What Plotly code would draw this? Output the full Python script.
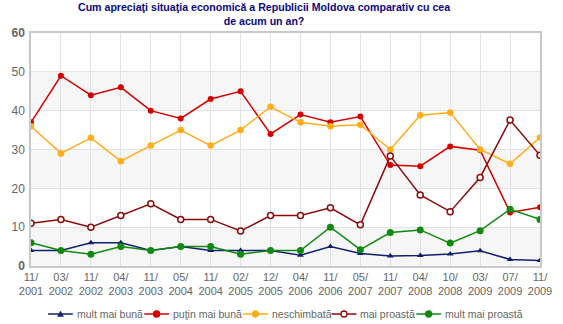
import plotly.graph_objects as go

# Survey waves (month/year)
periods = ["11/2001", "03/2002", "11/2002", "04/2003", "11/2003", "05/2004",
           "11/2004", "02/2005", "12/2005", "04/2006", "11/2006", "05/2007",
           "11/2007", "04/2008", "10/2008", "03/2009", "07/2009", "11/2009"]

# Share of respondents (%) per answer
mult_mai_buna = [4, 4, 6, 6, 4, 5, 4, 4, 4, 2.8, 5, 3.2, 2.6, 2.7, 3.1, 3.9, 1.7, 1.4]
putin_mai_buna = [37, 49, 44, 46, 40, 38, 43, 45, 34, 39, 37, 38.5, 26, 25.7, 30.8, 29.8, 13.8, 15.1]
neschimbata = [36, 29, 33, 27, 31, 35, 31, 35, 41, 37, 36, 36.4, 30, 38.8, 39.5, 30, 26.3, 33.1]
mai_proasta = [11, 12, 10, 13, 16, 12, 12, 9, 13, 13, 15, 10.6, 28.3, 18.3, 14, 22.8, 37.6, 28.5]
mult_mai_proasta = [6, 4, 3, 5, 4, 5, 5, 3, 4, 4, 10, 4.2, 8.6, 9.3, 5.9, 9.1, 14.6, 12]

y_ticks = [0, 10, 20, 30, 40, 50, 60]

FONT = "Liberation Sans"
W, H = 563, 324
M_L, M_R, M_T, M_B = 17, 11, 33, 58
PW, PH = W - M_L - M_R, H - M_T - M_B

x_idx = list(range(len(periods)))
tick_text = [p.replace("/", "/<br>") for p in periods]

series = [
    ("mult mai bună", mult_mai_buna, "#12206e", "triangle-up", "#12206e"),
    ("puţin mai bună", putin_mai_buna, "#d40000", "circle", "#d40000"),
    ("neschimbată", neschimbata, "#ffad1a", "circle", "#ffad1a"),
    ("mai proastă", mai_proasta, "#8b0a0a", "circle", "white"),
    ("mult mai proastă", mult_mai_proasta, "#0f8a0f", "circle", "#0f8a0f"),
]
marker_sizes = [6, 6, 6.5, 6, 7]

fig = go.Figure()
for (name, vals, col, sym, fill), ms in zip(series, marker_sizes):
    fig.add_trace(go.Scatter(
        x=x_idx, y=vals, name=name, mode="lines+markers",
        line=dict(color=col, width=1.5),
        marker=dict(symbol=sym, size=ms, color=fill, line=dict(color=col, width=1.5 if fill == "white" else 0)),
    ))

# Alternating light bands behind the plot
for lo in (0, 20, 40):
    fig.add_shape(type="rect", xref="paper", yref="y", x0=0, x1=1, y0=lo, y1=lo + 10,
                  fillcolor="#f6f6f6", line_width=0, layer="below")


def px_x(x):
    return (x - M_L) / PW


def px_y(y):
    return (H - M_B - y) / PH


# Legend row below the axis: key line, key marker, label
legend_x = [35, 136, 240, 333, 422]
legend_y = px_y(314)
for (name, vals, col, sym, fill), lx in zip(series, legend_x):
    fig.add_shape(type="line", xref="paper", yref="paper",
                  x0=px_x(lx), x1=px_x(lx + 26), y0=legend_y, y1=legend_y,
                  line=dict(color=col, width=1.5))
    cx = px_x(lx + 13)
    if sym == "triangle-up":
        fig.add_shape(type="path", xref="paper", yref="paper",
                      xsizemode="pixel", ysizemode="pixel", xanchor=cx, yanchor=legend_y,
                      path="M -3 -2.5 L 3 -2.5 L 0 3 Z", fillcolor=col, line=dict(color=col, width=0.5))
    else:
        r = 3
        fig.add_shape(type="circle", xref="paper", yref="paper",
                      xsizemode="pixel", ysizemode="pixel", xanchor=cx, yanchor=legend_y,
                      x0=-r, x1=r, y0=-r, y1=r, fillcolor=fill,
                      line=dict(color=col, width=1.3))
    fig.add_annotation(text=name, xref="paper", yref="paper", x=px_x(lx + 28), y=legend_y,
                       xanchor="left", yanchor="middle", showarrow=False,
                       font=dict(family=FONT, size=10.5, color="#666666"))

# Two-line heading above the plot area
fig.add_annotation(
    text="<b>Cum apreciaţi situaţia economică a Republicii Moldova comparativ cu cea<br>de acum un an?</b>",
    xref="paper", yref="paper", x=0.458, y=1.0815, xanchor="center", yanchor="middle",
    align="center", showarrow=False,
    font=dict(family=FONT, size=10.6, color="#0a0a80"),
)

fig.update_layout(
    width=W, height=H,
    margin=dict(l=M_L, r=M_R, t=M_T, b=M_B),
    paper_bgcolor="white", plot_bgcolor="white",
    font=dict(family=FONT, size=11, color="#666666"),
    showlegend=False,
)

fig.update_xaxes(
    range=[0, len(periods) - 1], tickmode="array", tickvals=x_idx, ticktext=tick_text,
    showgrid=True, gridcolor="#e2e2e2", gridwidth=1,
    showline=True, linecolor="#c8c8c8", linewidth=1.5, mirror=True,
    ticks="", zeroline=False, fixedrange=True,
    tickfont=dict(family=FONT, size=11, color="#666666"),
)
fig.update_yaxes(
    range=[0, 60], tickmode="array", tickvals=y_ticks,
    ticktext=["<b>0</b>" if v == 0 else ("<b>60</b>" if v == 60 else str(v)) for v in y_ticks],
    showgrid=True, gridcolor="#e2e2e2", gridwidth=1,
    showline=True, linecolor="#c8c8c8", linewidth=1.5, mirror=True,
    ticks="", zeroline=False, ticklabelstandoff=2,
    tickfont=dict(family=FONT, size=12, color="#666666"),
)

fig.write_html("out.html")
